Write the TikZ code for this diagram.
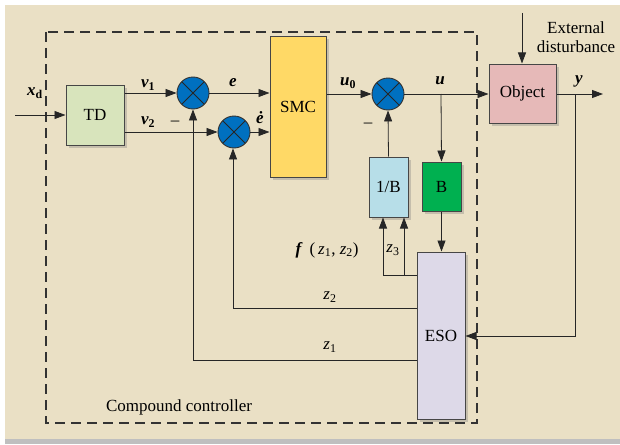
\documentclass[tikz,border=0pt]{standalone}
\usepackage{fontspec}
\setmainfont{Liberation Serif}[Ligatures=TeX]
\newfontfamily\serfont{Liberation Serif}[Ligatures=TeX]
\usetikzlibrary{arrows.meta,shadows}
\definecolor{bgtan}{RGB}{234,224,197}
\definecolor{tdgreen}{RGB}{216,228,188}
\definecolor{smcyellow}{RGB}{255,217,102}
\definecolor{objpink}{RGB}{230,185,184}
\definecolor{invblue}{RGB}{183,222,232}
\definecolor{bgreen}{RGB}{0,176,80}
\definecolor{esolav}{RGB}{221,217,232}
\definecolor{sumblue}{RGB}{0,112,192}
\definecolor{boxedge}{RGB}{70,70,70}
\begin{document}
\begin{tikzpicture}[x=1pt,y=-1pt,
  font=\serfont\fontsize{17}{20}\selectfont,
  sig/.style={line width=0.8pt,draw=black!85},
  arr/.style={sig,-{Triangle[length=11pt,width=8pt]}},
  blk/.style={draw=boxedge,line width=1pt,inner sep=0pt,
    drop shadow={shadow xshift=2.5pt,shadow yshift=-2.5pt,opacity=0.35}},
  summer/.style={circle,draw=black!80,line width=0.9pt,fill=sumblue,
    minimum size=32pt,inner sep=0pt,
    path picture={\draw[line width=0.8pt,black!85]
      (path picture bounding box.south west)--(path picture bounding box.north east)
      (path picture bounding box.north west)--(path picture bounding box.south east);}},
  lbl/.style={inner sep=1pt},
  var/.style={inner sep=1pt,font=\serfont\fontsize{17}{20}\selectfont\bfseries\itshape}]
% background
\fill[white] (0,0) rectangle (620,444);
\fill[black!25] (5,439) rectangle (620,444);
\fill[bgtan] (5,5) rectangle (620,439);
\useasboundingbox (0,0) rectangle (620,444);
% dashed frame
\draw[line width=1.3pt,black!80,dash pattern=on 10pt off 6pt] (46,32) rectangle (477,423);
\node[lbl] (cc) at (179,407) {Compound controller};
% blocks
\node[blk,fill=tdgreen,minimum width=58pt,minimum height=60pt] (td) at (95,115) {TD};
\node[blk,fill=smcyellow,minimum width=56pt,minimum height=140pt] (smc) at (298,107) {SMC};
\node[blk,fill=objpink,minimum width=67pt,minimum height=59pt] (obj) at (522.5,93.5) {Object};
\node[blk,fill=invblue,minimum width=39pt,minimum height=60pt] (inv) at (388.5,187) {1/B};
\node[blk,fill=bgreen,minimum width=39pt,minimum height=49pt] (bb) at (441.5,186.5) {B};
\node[blk,fill=esolav,minimum width=48pt,minimum height=167pt] (eso) at (441,335.5) {ESO};
% summers
\node[summer] (s1) at (193,93) {};
\node[summer] (s2) at (234,132) {};
\node[summer] (s3) at (388,94) {};
% coordinates
\coordinate (in) at (15,115);
\coordinate (dist) at (522,13);
\coordinate (yout) at (603,94);
\coordinate (ub) at (441,94);
\coordinate (yb) at (575,94);
\coordinate (yc) at (575,336);
\coordinate (fz) at (383,275);
\coordinate (z3c) at (404,275);
\coordinate (z2c) at (233,308);
\coordinate (z1c) at (193,360);
% signals
\draw[arr] (in) -- (td.west |- in);
\draw[arr] (td.east |- s1) -- (s1.west);
\draw[arr] (td.east |- s2) -- (s2.west);
\draw[arr] (s1.east) -- (smc.west |- s1);
\draw[arr] (s2.east) -- (smc.west |- s2);
\draw[arr] (smc.east |- s3) -- (s3.west);
\draw[arr] (s3.east) -- (obj.west |- s3);
\draw[arr] (ub) -- (bb.north);
\draw[arr] (obj.east |- yout) -- (yout);
\draw[arr] (dist) -- (dist |- obj.north);
\draw[arr] (yb) -- (yc) -- (eso.east |- yc);
\draw[arr] (bb.south) -- (eso.north -| bb.south);
\draw[arr] (inv.north) -- (s3.south);
\draw[arr] (eso.west |- fz) -- (fz) -- (fz |- inv.south);
\draw[arr] (z3c) -- (z3c |- inv.south);
\draw[arr] (eso.west |- z2c) -- (z2c) -- (z2c |- s2.south);
\draw[arr] (eso.west |- z1c) -- (z1c) -- (s1.south);
% labels
\node[lbl] (xd) at (35,93) {\textbf{\textit{x}}\textsubscript{\textbf{d}}};
\node[var] (v1) at (148,85) {v\textsubscript{\upshape 1}};
\node[var] (v2) at (148,122) {v\textsubscript{\upshape 2}};
\node[lbl] (m1) at (175,123) {\textendash};
\node[var] (el) at (233,83) {e};
\node[var] (ed) at (260,118) {\.{e}};
\node[var] (u0) at (348,83) {u\textsubscript{\upshape 0}};
\node[var] (ul) at (440,81) {u};
\node[var] (yl) at (579,81) {y};
\node[lbl] (m3) at (368,125) {\textendash};
\node[lbl,align=center,font=\serfont\fontsize{17}{19}\selectfont] (ext) at (576,37) {External\\disturbance};
\node[lbl] (fl) at (327,250) {\textbf{\textit{f}}\, (\,\textit{z}\textsubscript{1}, \textit{z}\textsubscript{2})};
\node[lbl] (z3) at (393,250) {\textit{z}\textsubscript{3}};
\node[lbl] (z2) at (330,297) {\textit{z}\textsubscript{2}};
\node[lbl] (z1) at (330,347) {\textit{z}\textsubscript{1}};
\end{tikzpicture}
\end{document}
